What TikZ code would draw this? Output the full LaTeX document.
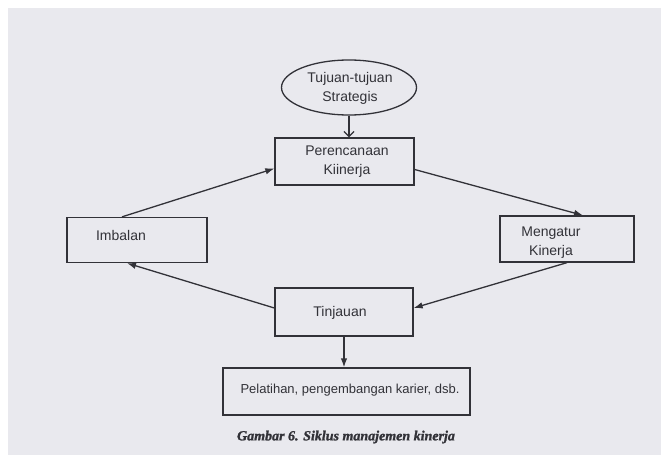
\documentclass[tikz,border=0pt]{standalone}
\usepackage{fontspec}
\setmainfont{Liberation Sans}
\newfontfamily\capfont[FakeBold=1.5]{Liberation Serif}
\usetikzlibrary{shapes.geometric,arrows.meta}
\definecolor{paper}{RGB}{233,233,238}
\definecolor{ink}{RGB}{50,50,56}
\begin{document}
\begin{tikzpicture}[x=1pt,y=-1pt,
  box/.style={draw=ink, line width=1.3pt, fill=paper, inner sep=0pt},
  lbl/.style={text=ink, font=\fontsize{14}{19}\selectfont, align=center, inner sep=0pt},
  link/.style={draw=ink, line width=1.3pt, -{Latex[length=9pt,width=6.5pt]}},
  feed/.style={draw=ink, line width=1.3pt, -{Straight Barb[length=5pt,width=10pt]}},
]
\useasboundingbox (0,0) rectangle (661,455);
\fill[white] (0,0) rectangle (661,455);
\fill[paper] (8,8) rectangle (661,455);

% goals ellipse
\node[box, ellipse, minimum width=135pt, minimum height=55pt] (goal) at (349,87.5) {};
\node[lbl] (goalt) at (350,88) {Tujuan-tujuan\\Strategis};

% the cycle
\node[box, minimum width=139pt, minimum height=47pt] (per) at (344.5,161.5) {};
\node[lbl] (pert) at (347,162) {Perencanaan\\Kiinerja};

\node[box, minimum width=134pt, minimum height=46pt] (meng) at (567,239) {};
\node[lbl] (mengt) at (551,243) {Mengatur\\Kinerja};

\node[box, minimum width=138pt, minimum height=48pt] (tin) at (344,312) {};
\node[lbl] (tint) at (340,313) {Tinjauan};

\node[box, minimum width=140pt, minimum height=45pt] (imb) at (137,240) {};
\node[lbl] (imbt) at (121,235) {Imbalan};

% follow-up
\node[box, minimum width=247pt, minimum height=47pt] (pel) at (346.5,391.5) {};
\node[lbl, font=\fontsize{13}{17}\selectfont] (pelt) at (350,390) {Pelatihan, pengembangan karier, dsb.};

% connectors
\draw[feed] (goal.south) -- (goal.south |- per.north);
\draw[link] ([yshift=-8pt]per.east) -- ([xshift=16pt]meng.north);
\draw[link] (meng.south) -- ([yshift=4pt]tin.east);
\draw[link] ([yshift=4pt]tin.west) -- ([xshift=-10pt]imb.south);
\draw[link] ([xshift=-15pt]imb.north) -- ([yshift=-7pt]per.west);
\draw[link] (tin.south) -- (tin.south |- pel.north);

% caption
\node[text=ink, font=\capfont\bfseries\itshape\fontsize{14}{17}\selectfont, inner sep=0pt] (cap) at (346,437) {Gambar 6. Siklus manajemen kinerja};
\end{tikzpicture}
\end{document}
